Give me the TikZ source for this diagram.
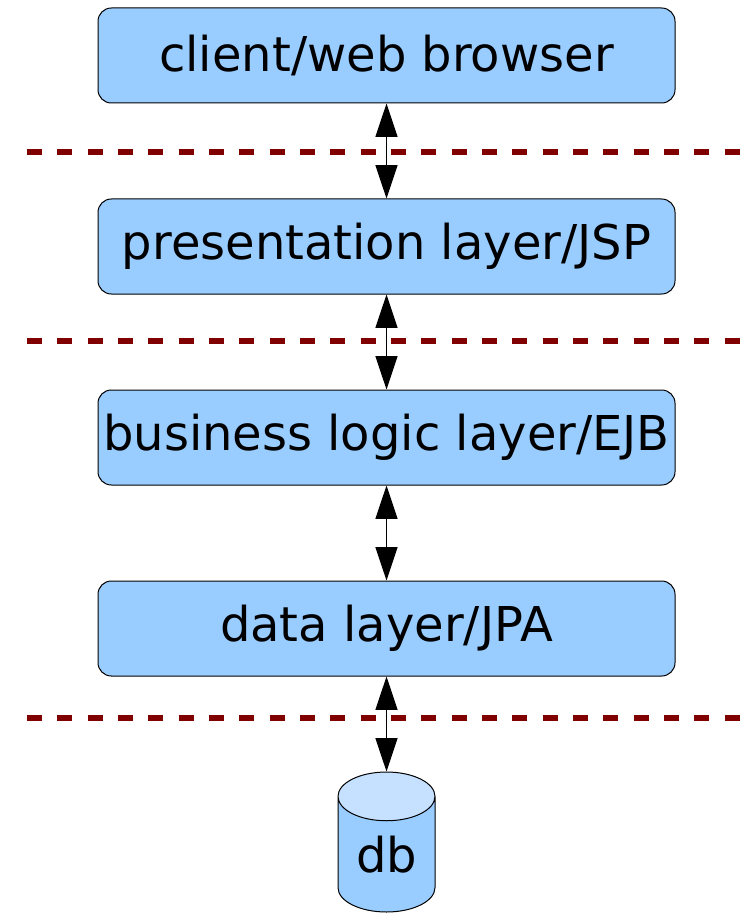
\documentclass[tikz,border=0pt]{standalone}
\usepackage{fontspec}
\setmainfont{DejaVu Sans}
\usetikzlibrary{chains, arrows.meta, shapes.geometric}

\definecolor{layerblue}{HTML}{99CCFF}
\definecolor{dbtop}{HTML}{C5E1FF}
\definecolor{sepred}{HTML}{800000}

\begin{document}
\begin{tikzpicture}[x=0.75pt, y=-0.75pt,
   start chain = going below, node distance = 71.25pt,
   layer/.style = {draw, line width=0.75pt, fill=layerblue, rounded corners=10pt,
      minimum width=432.75pt, minimum height=71.25pt, inner sep=0pt,
      font=\fontsize{36}{44}\selectfont},
   sep/.style = {sepred, line width=5pt, dash pattern=on 11.25pt off 11.5pt},
   link/.style = {{Triangle[length=25pt,width=16.5pt]}-{Triangle[length=25pt,width=16.5pt]},
      line width=0.9pt}]
   \useasboundingbox (0,0) rectangle (745,916);

   \node[layer, on chain] at (386.5,55.5) (client) {client/web browser};
   \node[layer, on chain]  (pres) {presentation layer/JSP};
   \node[layer, on chain]  (logic) {business logic layer/EJB};
   \node[layer, on chain]  (data) {data layer/JPA};
   \node[cylinder, shape border rotate=90, aspect=0.8, draw, line width=0.75pt,
      cylinder uses custom fill, cylinder body fill=layerblue, cylinder end fill=dbtop,
      minimum width=72.75pt, minimum height=105pt, inner sep=0pt,
      font=\fontsize{36}{44}\selectfont, on chain] (db) {db};

   \draw[sep] (27,152) -- (745,152);
   \draw[sep] (27,341) -- (745,341);
   \draw[sep] (27,718) -- (745,718);

   \draw[link] (client) -- (pres);
   \draw[link] (pres) -- (logic);
   \draw[link] (logic) -- (data);
   \draw[link] (data) -- (db);
\end{tikzpicture}
\end{document}
